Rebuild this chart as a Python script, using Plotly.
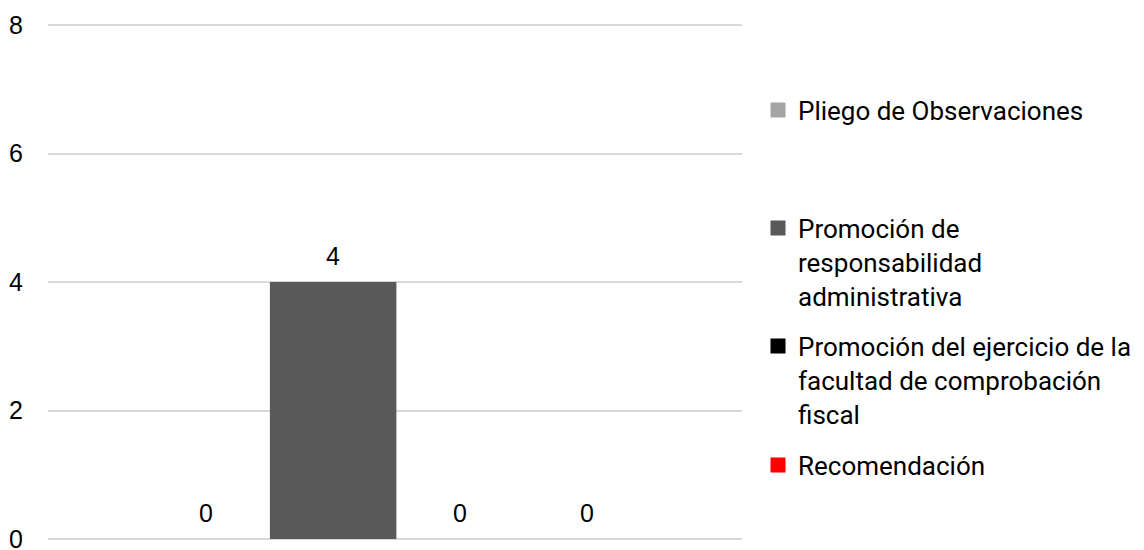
import plotly.graph_objects as go

series = ["Pliego de Observaciones",
          "Promoción de responsabilidad administrativa",
          "Promoción del ejercicio de la facultad de comprobación fiscal",
          "Recomendación"]
legend_labels = ["Pliego de Observaciones",
                 "Promoción de<br>responsabilidad<br>administrativa",
                 "Promoción del ejercicio de la<br>facultad de comprobación<br>fiscal",
                 "Recomendación"]
values = [0, 4, 0, 0]
colors = ["#a5a5a5", "#595959", "#000000", "#ff0000"]
y_ticks = [0, 2, 4, 6, 8]

# page body has an 8px margin: figure is drawn from (8, 8)
OFF = 8
W, H = 1136, 542
ml = 48 - OFF
mt = 25 - OFF - 1
mb = 11
mr = W - (742 - OFF)
plot_h = H - mt - mb
legend_centers_px = [110, 262, 380, 465]

fig = go.Figure()
legend_names = ["legend", "legend2", "legend3", "legend4"]
for i, (name, lab, v, c) in enumerate(zip(series, legend_labels, values, colors)):
    fig.add_trace(go.Bar(
        x=[i], y=[v], name=name, marker=dict(color=c, line=dict(width=0)),
        width=0.995, showlegend=False, hovertext=name, hoverinfo="text+y",
    ))
    # legend entry with a larger square swatch
    fig.add_trace(go.Scatter(
        x=[None], y=[None], mode="markers", name=lab, legend=legend_names[i],
        marker=dict(symbol="square", size=15, color=c, line=dict(width=0)),
        hoverinfo="skip",
    ))
    fig.add_annotation(x=i, y=v, text=str(v), showarrow=False, yanchor="bottom",
                       yshift=10, font=dict(family="Liberation Sans, Arial", size=25, color="#000000"))

legend_font = dict(family="Roboto", size=26, color="#000000")
layout_legends = {}
for i, ln in enumerate(legend_names):
    ypaper = (H - mb - (legend_centers_px[i] - OFF)) / plot_h
    layout_legends[ln] = dict(
        x=(758 - 48) / (W - ml - mr), xanchor="left",
        y=ypaper, yanchor="middle", valign="top",
        font=legend_font, bgcolor="rgba(0,0,0,0)", borderwidth=0,
        itemclick=False, itemdoubleclick=False, itemsizing="trace",
    )

fig.update_layout(
    width=W, height=H,
    margin=dict(l=ml, r=mr, t=mt, b=mb, autoexpand=False),
    paper_bgcolor="white", plot_bgcolor="white",
    barmode="overlay",
    showlegend=True,
    **layout_legends,
    xaxis=dict(range=[-1.243, 4.216], showticklabels=False, showgrid=False,
               zeroline=False, showline=False, ticks="", fixedrange=True),
    yaxis=dict(range=[0, 8.016], tickvals=y_ticks, ticktext=[str(t) for t in y_ticks],
               showgrid=True, gridcolor="#d9d9d9", gridwidth=2,
               zeroline=True, zerolinecolor="#d9d9d9", zerolinewidth=2,
               showline=False, ticks="", ticklabelstandoff=24,
               ticklabeloverflow="allow",
               tickfont=dict(family="Liberation Sans, Arial", size=25, color="#000000"),
               fixedrange=True),
)

fig.write_html("out.html")
